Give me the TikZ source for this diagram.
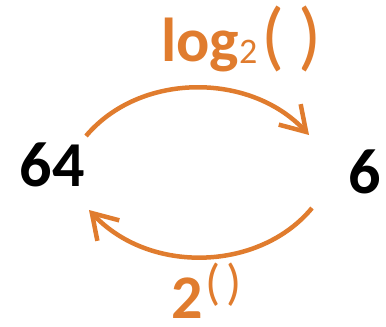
\documentclass[tikz,border=0pt]{standalone}
\usepackage{fontspec}
\setmainfont{Carlito}
\usetikzlibrary{arrows.meta}
\definecolor{arroworange}{RGB}{224,124,46}
\tikzset{
  num/.style={font=\fontsize{64}{64}\selectfont\bfseries, text=black, inner sep=0pt},
  lbl/.style={font=\fontsize{62}{62}\selectfont\bfseries, text=arroworange, inner sep=0pt},
  arc/.style={draw=arroworange, line width=4.5pt, -{Straight Barb[length=24pt,width=30pt]}}
}
\begin{document}
\begin{tikzpicture}[x=1pt,y=1pt]
\useasboundingbox (0,0) rectangle (386,327);
\node[num] (n64) at (52,162) {64};
\node[num] (n6) at (365,155) {6};
\node[lbl, anchor=base west] (log) at (161,265) {log\raisebox{-2pt}{\fontsize{36}{36}\selectfont\mdseries 2}\hspace{4pt}{\fontsize{76}{76}\selectfont\mdseries(\hspace{14pt})}};
\node[lbl, anchor=base west] (pow) at (171,9) {2\hspace{3pt}\raisebox{19pt}{\fontsize{50}{50}\selectfont\mdseries(\hspace{6pt})}};
\coordinate (a1) at (86,191);
\coordinate (a2) at (309,192);
\coordinate (b1) at (312,119);
\coordinate (b2) at (89,117);
\draw[arc] (a1) .. controls (140,255) and (250,255) .. (a2);
\draw[arc] (b1) .. controls (260,56) and (150,52) .. (b2);
\end{tikzpicture}
\end{document}
